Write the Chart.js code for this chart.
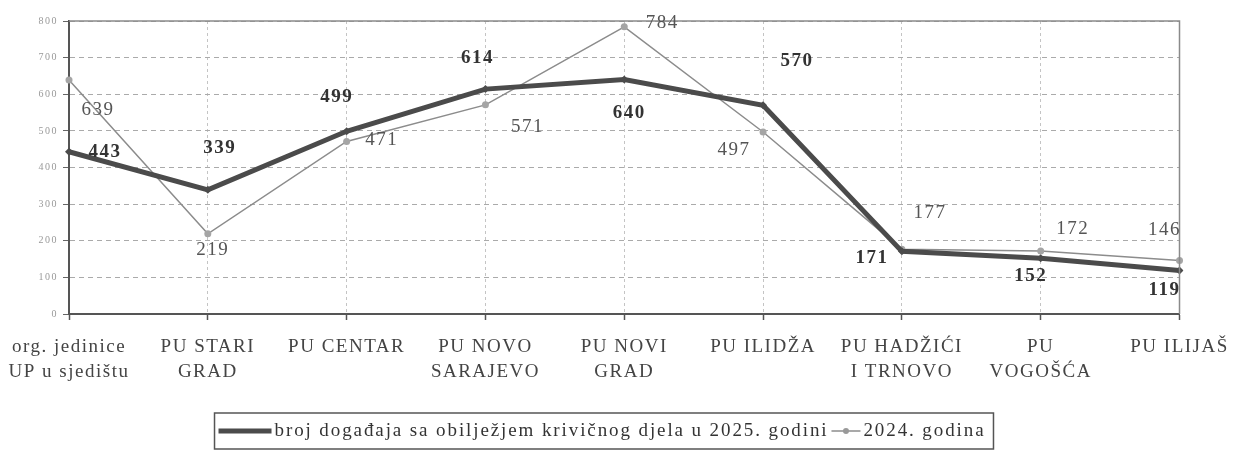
<!DOCTYPE html>
<html>
<head>
<meta charset="utf-8">
<script src="https://cdn.jsdelivr.net/npm/chart.js@4.4.1/dist/chart.umd.min.js"></script>
<style>
  html, body { margin: 0; padding: 0; background: #fff; }
  #wrap { width: 1236px; height: 450px; position: relative; }
</style>
</head>
<body>
<div id="wrap"><canvas id="chart"></canvas></div>
<script>
// --- Data ---
const categories = [
  ['org. jedinice', 'UP u sjedištu'],
  ['PU STARI', 'GRAD'],
  ['PU CENTAR'],
  ['PU NOVO', 'SARAJEVO'],
  ['PU NOVI', 'GRAD'],
  ['PU ILIDŽA'],
  ['PU HADŽIĆI', 'I TRNOVO'],
  ['PU', 'VOGOŠĆA'],
  ['PU ILIJAŠ']
];
const events2025 = [443, 339, 499, 614, 640, 570, 171, 152, 119];
const events2024 = [639, 219, 471, 571, 784, 497, 177, 172, 146];
const seriesNames = ['broj događaja sa obilježjem krivičnog djela u 2025. godini', '2024. godina'];
const yMin = 0, yMax = 800, yStep = 100;

// label nudges (px, relative to each point)
const labelShift2025 = [[36, 0], [12, -42], [-10, -34], [-8, -31], [5, 33], [34, -44], [-30, 7], [-10, 18], [-15, 20]];
const labelShift2024 = [[29, 30], [5, 16], [35, -1], [42, 22], [38, -4], [-29, 18], [28, -36], [32, -22], [-15, -31]];

const serif = "'Liberation Serif', 'Times New Roman', serif";
const thickColor = '#4b4b4b';
const thinColor = '#8c8c8c';

// --- Plugins ---
const spacingPlugin = {
  id: 'spacing',
  beforeDraw(chart) { chart.ctx.letterSpacing = '1.5px'; }
};

const frameAndLabels = {
  id: 'frameAndLabels',
  afterDatasetsDraw(chart) {
    const ctx = chart.ctx;
    const a = chart.chartArea;
    ctx.save();
    // top + right frame lines
    ctx.strokeStyle = '#8a8a8a';
    ctx.lineWidth = 1.5;
    ctx.beginPath();
    ctx.moveTo(a.left, a.top);
    ctx.lineTo(a.right, a.top);
    ctx.lineTo(a.right, a.bottom);
    ctx.stroke();

    // value labels
    ctx.textAlign = 'center';
    ctx.textBaseline = 'middle';
    const specs = [
      { idx: 0, shifts: labelShift2025, font: `bold 19px ${serif}`, color: '#333' },
      { idx: 1, shifts: labelShift2024, font: `19px ${serif}`, color: '#555' }
    ];
    specs.forEach(s => {
      const meta = chart.getDatasetMeta(s.idx);
      const vals = chart.data.datasets[s.idx].data;
      ctx.font = s.font;
      ctx.fillStyle = s.color;
      meta.data.forEach((pt, i) => {
        const [dx, dy] = s.shifts[i];
        ctx.fillText(String(vals[i]), pt.x + dx, pt.y + dy);
      });
    });
    ctx.restore();
  },
  afterDraw(chart) {
    // boxed legend below the axis
    const ctx = chart.ctx;
    ctx.save();
    ctx.letterSpacing = '1.9px';
    ctx.font = `19px ${serif}`;
    const w1 = ctx.measureText(seriesNames[0]).width;
    const w2 = ctx.measureText(seriesNames[1]).width;
    const line1 = 53, line2 = 29, gap = 3;
    const total = 4 + line1 + gap + w1 + gap + line2 + gap + w2 + 8;
    const left = 604 - total / 2;
    const top = 413, h = 36, cy = top + 18;
    ctx.strokeStyle = '#555';
    ctx.lineWidth = 1.5;
    ctx.strokeRect(left, top, total, h);

    let x = left + 4;
    ctx.strokeStyle = thickColor;
    ctx.lineWidth = 5;
    ctx.beginPath(); ctx.moveTo(x, cy); ctx.lineTo(x + line1, cy); ctx.stroke();
    x += line1 + gap;
    ctx.fillStyle = '#333';
    ctx.textBaseline = 'middle';
    ctx.textAlign = 'left';
    ctx.fillText(seriesNames[0], x, cy);
    x += w1 + gap;
    ctx.strokeStyle = thinColor;
    ctx.lineWidth = 1.5;
    ctx.beginPath(); ctx.moveTo(x, cy); ctx.lineTo(x + line2, cy); ctx.stroke();
    ctx.fillStyle = '#999';
    ctx.beginPath(); ctx.arc(x + line2 / 2, cy, 3, 0, Math.PI * 2); ctx.fill();
    x += line2 + gap;
    ctx.fillStyle = '#333';
    ctx.fillText(seriesNames[1], x, cy);
    ctx.restore();
  }
};

// --- Chart ---
new Chart(document.getElementById('chart'), {
  type: 'line',
  data: {
    labels: categories,
    datasets: [
      {
        label: seriesNames[0],
        data: events2025,
        borderColor: thickColor,
        backgroundColor: thickColor,
        borderWidth: 5,
        pointStyle: 'rectRot',
        pointRadius: 4,
        pointBorderWidth: 0,
        tension: 0
      },
      {
        label: seriesNames[1],
        data: events2024,
        borderColor: thinColor,
        backgroundColor: '#a5a5a5',
        borderWidth: 1.5,
        pointRadius: 3.5,
        pointBorderWidth: 0,
        tension: 0
      }
    ]
  },
  options: {
    responsive: true,
    maintainAspectRatio: false,
    animation: false,
    events: [],
    layout: { padding: { top: 21, right: 53, left: 0, bottom: 0 } },
    plugins: {
      legend: { display: false },
      tooltip: { enabled: false }
    },
    scales: {
      x: {
        offset: false,
        grid: {
          color: '#c4c4c4',
          lineWidth: 1,
          tickLength: 6,
          tickColor: '#555',
          tickWidth: 1.5
        },
        border: { display: true, color: '#555', width: 2, dash: [3, 3] },
        ticks: {
          autoSkip: false,
          maxRotation: 0,
          padding: 14,
          color: '#444',
          font: { family: serif, size: 19, lineHeight: 1.32 }
        },
        afterFit(scale) { scale.height = 136; }
      },
      y: {
        min: yMin,
        max: yMax,
        grid: {
          color: '#aaa',
          lineWidth: 1,
          tickLength: 6,
          tickColor: '#666',
          tickWidth: 1
        },
        border: { display: true, color: '#555', width: 2, dash: [5, 4] },
        ticks: {
          stepSize: yStep,
          padding: 5,
          color: '#999',
          font: { family: serif, size: 10 }
        },
        afterFit(scale) { scale.width = 69; }
      }
    }
  },
  plugins: [spacingPlugin, frameAndLabels]
});
</script>
</body>
</html>
